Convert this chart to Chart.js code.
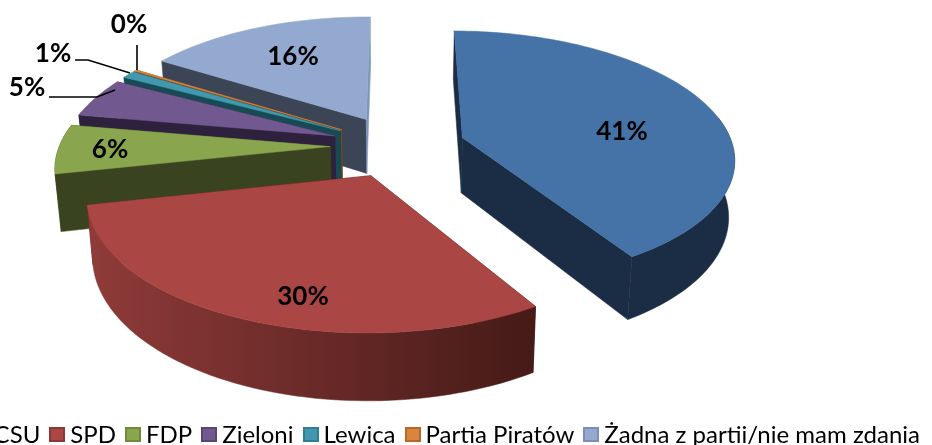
<!DOCTYPE html>
<html lang="pl">
<head>
<meta charset="utf-8">
<title>Partie</title>
<script src="https://cdn.jsdelivr.net/npm/chart.js@4"></script>
<style>
    html, body { margin: 0; padding: 0; background: #fff; width: 932px; height: 445px; overflow: hidden; }
    #wrap { position: relative; width: 932px; height: 445px; overflow: hidden; }
    canvas { position: absolute; left: 0; top: 0; }
    #legend {
        position: absolute; right: 12px; top: 418px; display: flex; white-space: nowrap;
        font: 24px Lato, sans-serif; color: #000; line-height: 32px;
    }
    .legend-item { display: flex; align-items: center; margin-left: 9px; }
    .legend-color { width: 16px; height: 15px; box-sizing: border-box; border: 2px solid; margin-right: 5px; }
</style>
</head>
<body>
<div id="wrap">
    <canvas id="pie" width="932" height="445"></canvas>
    <div id="legend"></div>
</div>
<script>
const categories = ['CDU/CSU', 'SPD', 'FDP', 'Zieloni', 'Lewica', 'Partia Piratów', 'Żadna z partii/nie mam zdania'];
const shares = [41.2, 30.3, 6.2, 5.05, 0.95, 0.2, 16.1];
const topColors = ['#4572a7', '#aa4643', '#89a54e', '#71588f', '#4198af', '#db843d', '#93a9cf'];
const sideColors = ['#1b2d45', '#451a17', '#3a431f', '#2e213d', '#174a55', '#7a4516', '#3c4556'];
const rimLeftColors = ['#1b2d45', '#8f3b39', '#3a431f', '#2e213d', '#174a55', '#7a4516', '#3c4556'];
const endFaceColors = ['#1b2d45', '#451a17', '#3a431f', '#2e213d', '#174a55', '#7a4516', '#7f96bb'];
const legendBorders = ['#3a5f8c', '#8c3836', '#6f8a3d', '#5a4672', '#2f7f94', '#b56a2c', '#7a8fb3'];

// Where each percentage sits; leader lines only for the thin slices
const labelSpots = [
    { x: 622, y: 132 },
    { x: 303, y: 297 },
    { x: 110, y: 150 },
    { x: 27, y: 88, line: [[49, 97], [97, 97], [115, 90]] },
    { x: 53, y: 54, line: [[75, 60], [88, 60], [130, 73]] },
    { x: 129, y: 25, line: [[137, 45], [137, 70]] },
    { x: 293, y: 57 }
];

// Perspective of the tilted pie, everything relative to the chart's own radius
const VIEW = { sx: 1.866, sy: 0.86, depth: 0.384, persp: 0.146, shrink: 0.018, tilt: 0.005, explode: 0.25 };

function project(arc, X, Y, z) {
    const r = arc.outerRadius;
    const p = 1 / (1 + VIEW.persp * Y);
    return {
        x: arc.x + r * VIEW.sx * X * p * (1 - VIEW.shrink * z),
        y: arc.y - r * VIEW.sy * Y * p + r * VIEW.tilt * X + r * VIEW.depth * p * z
    };
}

function fillPath(ctx, pts, fill) {
    ctx.beginPath();
    pts.forEach((pt, i) => i ? ctx.lineTo(pt.x, pt.y) : ctx.moveTo(pt.x, pt.y));
    ctx.closePath();
    ctx.fillStyle = fill;
    ctx.fill();
    ctx.strokeStyle = fill;
    ctx.lineWidth = 0.5;
    ctx.stroke();
}

const pie3dPlugin = {
    id: 'pie3d',
    beforeDatasetsDraw(chart) {
        const ctx = chart.ctx;
        const arcs = chart.getDatasetMeta(0).data;

        const slices = arcs.map((arc, i) => {
            // chart.js angles start at 3 o'clock, here 0 is up and clockwise
            const a0 = arc.startAngle + Math.PI / 2;
            const a1 = arc.endAngle + Math.PI / 2;
            const mid = (a0 + a1) / 2;
            const ox = VIEW.explode * Math.sin(mid);
            const oy = VIEW.explode * Math.cos(mid);
            const edge = [];
            const steps = Math.max(2, Math.ceil((a1 - a0) / 0.03));
            for (let s = 0; s <= steps; s++) {
                const t = a0 + (a1 - a0) * s / steps;
                edge.push([ox + Math.sin(t), oy + Math.cos(t)]);
            }
            return { arc, i, ox, oy, edge, depthKey: Math.cos(mid) };
        });

        // back to front
        slices.sort((a, b) => b.depthKey - a.depthKey);

        slices.forEach(({ arc, i, ox, oy, edge }) => {
            const at = z => pt => project(arc, pt[0], pt[1], z);
            const apex = [ox, oy];
            const first = edge[0];
            const last = edge[edge.length - 1];

            fillPath(ctx, [apex, first].map(at(0)).concat([first, apex].map(at(1))), sideColors[i]);
            fillPath(ctx, [apex, last].map(at(0)).concat([last, apex].map(at(1))), endFaceColors[i]);

            // the far part of the rim is never seen
            const rim = edge.filter(pt => pt[1] - oy < 0.2);
            if (rim.length > 1) {
                const rimTop = rim.map(at(0));
                const rimBottom = rim.slice().reverse().map(at(1));
                const xs = rimTop.map(pt => pt.x);
                const grad = ctx.createLinearGradient(Math.min(...xs), 0, Math.max(...xs), 0);
                grad.addColorStop(0, rimLeftColors[i]);
                grad.addColorStop(1, sideColors[i]);
                fillPath(ctx, rimTop.concat(rimBottom), grad);
            }

            fillPath(ctx, [apex].concat(edge).map(at(0)), topColors[i]);
        });

        ctx.save();
        ctx.font = 'bold 26px Lato, sans-serif';
        ctx.fillStyle = '#000';
        ctx.strokeStyle = '#000';
        ctx.textAlign = 'center';
        ctx.textBaseline = 'middle';
        labelSpots.forEach((spot, i) => {
            ctx.fillText(Math.round(shares[i]) + '%', spot.x, spot.y);
            if (spot.line) {
                ctx.lineWidth = 1.6;
                ctx.beginPath();
                spot.line.forEach((pt, n) => n ? ctx.lineTo(pt[0], pt[1]) : ctx.moveTo(pt[0], pt[1]));
                ctx.stroke();
            }
        });
        ctx.restore();

        // default arcs are replaced by the ones above
        return false;
    }
};

new Chart(document.getElementById('pie'), {
    type: 'pie',
    data: {
        labels: categories,
        datasets: [{ data: shares, backgroundColor: topColors }]
    },
    options: {
        responsive: false,
        animation: false,
        layout: { padding: { left: 0, right: 136, top: 0, bottom: 153 } },
        plugins: { legend: { display: false }, tooltip: { enabled: true } }
    },
    plugins: [pie3dPlugin]
});

const legend = document.getElementById('legend');
categories.forEach((name, i) => {
    const item = document.createElement('div');
    item.className = 'legend-item';
    const box = document.createElement('span');
    box.className = 'legend-color';
    box.style.backgroundColor = topColors[i];
    box.style.borderColor = legendBorders[i];
    const text = document.createElement('span');
    text.textContent = name;
    item.appendChild(box);
    item.appendChild(text);
    legend.appendChild(item);
});
</script>
</body>
</html>
